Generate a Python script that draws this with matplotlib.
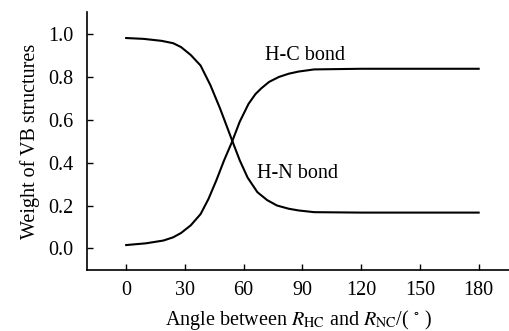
import matplotlib
matplotlib.use("Agg")
import matplotlib.pyplot as plt

# Weight of VB structures vs angle between R_HC and R_NC
angle_hn = [0, 9, 18, 24, 28, 33, 38, 43, 48, 54, 58, 62, 67, 72, 77, 83, 88, 96, 120, 150, 180]
weight_hn = [0.979, 0.975, 0.966, 0.955, 0.937, 0.90, 0.851, 0.76, 0.65, 0.505, 0.41, 0.33, 0.262, 0.225, 0.20, 0.185, 0.177, 0.169, 0.167, 0.167, 0.167]

angle_hc = [0, 10, 19, 24, 28, 33, 38, 42, 46, 50, 54, 58, 62.5, 66, 69, 73, 78, 83, 88, 96, 120, 150, 180]
weight_hc = [0.016, 0.024, 0.037, 0.052, 0.072, 0.108, 0.16, 0.23, 0.316, 0.41, 0.495, 0.59, 0.673, 0.718, 0.745, 0.775, 0.798, 0.813, 0.823, 0.833, 0.836, 0.836, 0.836]

x_ticks = [0, 30, 60, 90, 120, 150, 180]
y_ticks = [0.0, 0.2, 0.4, 0.6, 0.8, 1.0]

plt.rcParams['font.family'] = ['Liberation Serif', 'DejaVu Serif']
plt.rcParams['mathtext.fontset'] = 'stix'
plt.rcParams['font.size'] = 14.5

fig = plt.figure(figsize=(5.10, 3.31), dpi=100)
ax = fig.add_axes([0.1706, 0.1843, 0.8294, 0.7794])

ax.plot(angle_hn, weight_hn, color='black', lw=1.5)
ax.plot(angle_hc, weight_hc, color='black', lw=1.5)

ax.text(71, 0.90, "H-C bond", ha='left', va='center')
ax.text(67, 0.35, "H-N bond", ha='left', va='center')

ax.set_xlim(-20, 196)
ax.set_ylim(-0.1, 1.1)
ax.set_xticks(x_ticks)
ax.set_yticks(y_ticks)
ax.set_yticklabels([f"{v:.1f}" for v in y_ticks])

for side in ['top', 'right']:
    ax.spines[side].set_visible(False)
for side in ['left', 'bottom']:
    ax.spines[side].set_linewidth(1.2)

ax.tick_params(direction='in', length=4.5, width=1.0, pad=8)
ax.tick_params(axis='y', pad=10)

ax.set_ylabel("Weight of VB structures", labelpad=6)
ax.set_xlabel(r"Angle between $R_{\mathrm{HC}}$ and $R_{\mathrm{NC}}$/( $^{\circ}$ )", labelpad=6)

fig.savefig("out.png", dpi=100)
